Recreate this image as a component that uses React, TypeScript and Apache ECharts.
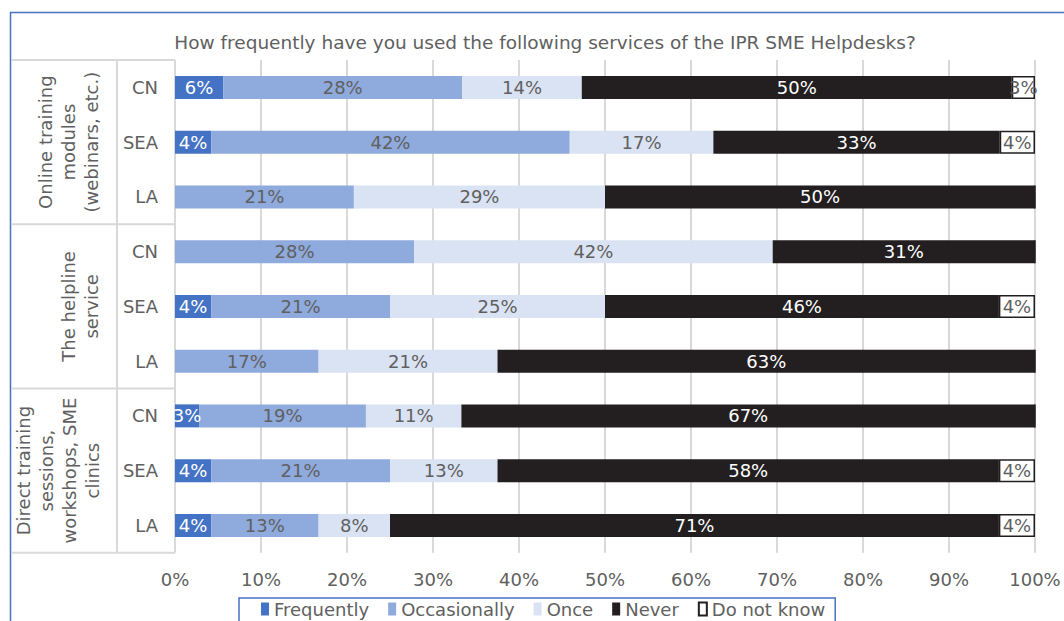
import React, { useEffect, useRef } from "react";
import * as echarts from "echarts";

const categories = ["CN", "SEA", "LA", "CN", "SEA", "LA", "CN", "SEA", "LA"];
const groupLabels = [
  "Online training\nmodules\n(webinars, etc.)",
  "The helpline\nservice",
  "Direct training\nsessions,\nworkshops, SME\nclinics",
];
const seriesNames = ["Frequently", "Occasionally", "Once", "Never", "Do not know"];
const frequently = [5.6, 4.2, 0, 0, 4.2, 0, 2.8, 4.2, 4.2];
const occasionally = [27.8, 41.7, 20.8, 27.8, 20.8, 16.7, 19.4, 20.8, 12.5];
const once = [13.9, 16.7, 29.2, 41.7, 25.0, 20.8, 11.1, 12.5, 8.3];
const never = [50.0, 33.3, 50.0, 30.5, 45.8, 62.5, 66.7, 58.3, 70.8];
const doNotKnow = [2.7, 4.1, 0, 0, 4.2, 0, 0, 4.2, 4.2];
const title = "How frequently have you used the following services of the IPR SME Helpdesks?";

const FONT = "DejaVu Sans";
const GRAY = "#606060";
const GRID_LINE = "#D9D9D9";
const BLUE = "#4472C4";
const FS = 18;

export default function App() {
  const ref = useRef<HTMLDivElement>(null);
  useEffect(() => {
    document.body.style.margin = "0";
    const chart = echarts.init(ref.current!, null, { renderer: "svg" });
    const gridLeft = 175;
    const gridTop = 60;
    const gridBottomY = 552.75;
    const band = (gridBottomY - gridTop) / categories.length;

    const labelFmt = (p: any) => (p.value > 0 ? Math.round(p.value) + "%" : "");
    const mk = (name: string, data: number[], color: string, labelColor: string, extra: any = {}) => ({
      name,
      type: "bar",
      stack: "total",
      data,
      barWidth: 23,
      itemStyle: { color, ...extra },
      label: {
        show: true,
        position: "inside",
        formatter: labelFmt,
        color: labelColor,
        fontFamily: FONT,
        fontSize: FS,
      },
    });

    const lineStyle = { stroke: GRID_LINE, lineWidth: 2 };
    const graphics: any[] = [];
    graphics.push({ type: "line", shape: { x1: 10.5, y1: 12, x2: 10.5, y2: 621 }, style: { stroke: BLUE, lineWidth: 1.5 } });
    graphics.push({ type: "line", shape: { x1: 10, y1: 12.5, x2: 1064, y2: 12.5 }, style: { stroke: BLUE, lineWidth: 1.5 } });
    for (let g = 0; g <= 3; g++) {
      const y = gridTop + g * 3 * band;
      graphics.push({ type: "line", shape: { x1: 11, y1: y, x2: gridLeft, y2: y }, style: lineStyle });
    }
    graphics.push({ type: "line", shape: { x1: 117, y1: gridTop, x2: 117, y2: gridBottomY }, style: lineStyle });
    const groupX = [68, 79.5, 57.5];
    groupLabels.forEach((t, i) => {
      graphics.push({
        type: "text",
        x: groupX[i],
        y: gridTop + (i * 3 + 1.5) * band,
        rotation: Math.PI / 2,
        style: {
          text: t,
          fill: GRAY,
          font: `${FS}px "${FONT}"`,
          textAlign: "center",
          textVerticalAlign: "middle",
          lineHeight: 23,
        },
      });
    });
    graphics.push({
      type: "text",
      x: 545,
      y: 42,
      style: { text: title, fill: GRAY, font: `18.5px "${FONT}"`, textAlign: "center", textVerticalAlign: "middle" },
    });

    chart.setOption({
      animation: false,
      textStyle: { fontFamily: FONT },
      color: [BLUE, "#8FAADC", "#DAE3F3", "#231F20", "#FFFFFF"],
      grid: { left: gridLeft, right: 1064 - 1035, top: gridTop, bottom: 621 - gridBottomY },
      legend: {
        data: seriesNames,
        left: 239,
        top: 598,
        padding: [2, 10, 20, 22],
        borderColor: BLUE,
        borderWidth: 1.5,
        itemWidth: 8,
        itemHeight: 13,
        itemGap: 19,
        icon: "rect",
        textStyle: { color: GRAY, fontSize: FS, fontFamily: FONT },
      },
      xAxis: {
        type: "value",
        min: 0,
        max: 100,
        interval: 10,
        axisLine: { show: false },
        axisTick: { show: false },
        axisLabel: { formatter: "{value}%", color: GRAY, fontSize: FS, fontFamily: FONT, margin: 18 },
        splitLine: { show: true, lineStyle: { color: GRID_LINE, width: 2 } },
      },
      yAxis: {
        type: "category",
        data: categories,
        inverse: true,
        axisLine: { show: false },
        axisTick: { show: false },
        axisLabel: { color: GRAY, fontSize: FS, fontFamily: FONT, margin: 17 },
      },
      series: [
        mk(seriesNames[0], frequently, BLUE, "#FFFFFF"),
        mk(seriesNames[1], occasionally, "#8FAADC", GRAY),
        mk(seriesNames[2], once, "#DAE3F3", GRAY),
        mk(seriesNames[3], never, "#231F20", "#FFFFFF"),
        mk(seriesNames[4], doNotKnow, "#FFFFFF", GRAY, { borderColor: "#231F20", borderWidth: 1.5 }),
      ],
      graphic: graphics,
    });
    return () => chart.dispose();
  }, []);
  return <div ref={ref} style={{ width: 1064, height: 621 }} />;
}
